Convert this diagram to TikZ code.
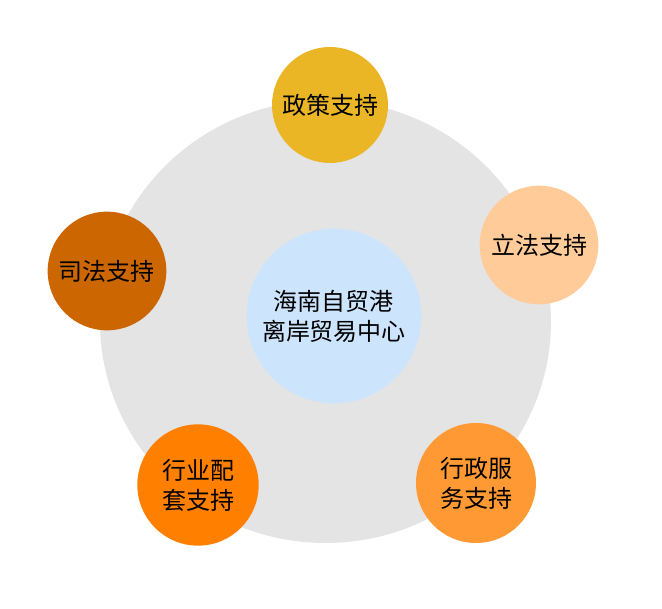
\documentclass[tikz,border=0pt]{standalone}
\usepackage{fontspec}
\newfontfamily\cjk{Noto Sans CJK SC}
\definecolor{bggray}{HTML}{E4E4E4}
\definecolor{hubblue}{HTML}{CCE4FC}
\definecolor{goldc}{HTML}{EBB626}
\definecolor{peachc}{HTML}{FFCC99}
\definecolor{brownc}{HTML}{CC6600}
\definecolor{orangec}{HTML}{FF8000}
\definecolor{lightorc}{HTML}{FF9933}
\begin{document}
\begin{tikzpicture}[x=0.75pt,y=-0.75pt,font=\cjk\fontsize{18}{22.5}\selectfont,
	ball/.style={circle,inner sep=0pt,minimum size=90pt,align=center,text=black}]
	\useasboundingbox (0,0) rectangle (662,609);
	%Nền
	\fill[bggray] (325.5,321.6) ellipse (225.5 and 221.4);
	%Trung tâm
	\node[ball,fill=hubblue,minimum size=131pt] (hub) at (334,316) {海南自贸港\\离岸贸易中心};
	%Các vòng tròn
	\node[ball,fill=goldc,minimum size=87pt] (policy) at (330,105) {政策支持};
	\node[ball,fill=peachc,minimum size=89pt] (legis) at (539,245) {立法支持};
	\node[ball,fill=lightorc] (admin) at (476,483) {行政服\\务支持};
	\node[ball,fill=orangec,minimum size=91pt] (industry) at (198,485) {行业配\\套支持};
	\node[ball,fill=brownc,minimum size=89pt] (judic) at (107,271) {司法支持};
\end{tikzpicture}
\end{document}
